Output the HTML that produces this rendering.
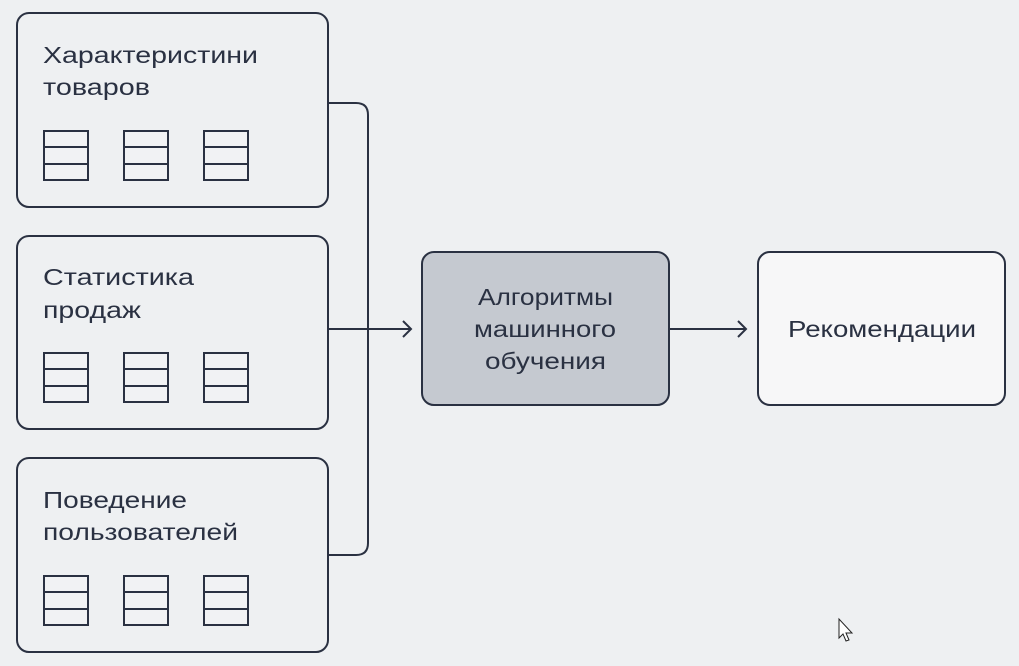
<!DOCTYPE html>
<html><head><meta charset="utf-8"><style>
html,body{margin:0;padding:0;background:#eef0f2;}
svg{display:block}
text{font-family:"Liberation Sans",sans-serif;font-size:23px;fill:#2a3142;}
</style></head><body>
<svg width="1019" height="666" viewBox="0 0 1019 666">
<rect width="1019" height="666" fill="#eef0f2"/>
<g fill="none" stroke="#2a3142" stroke-width="2">
<rect x="17" y="13" width="311" height="194" rx="12"/>
<rect x="17" y="236" width="311" height="193" rx="12"/>
<rect x="17" y="458" width="311" height="194" rx="12"/>
<path d="M328 103 H356 Q368 103 368 115 V543 Q368 555 356 555 H328"/>
<path d="M328 329 H411"/>
<path d="M403 321 L411 329 L403 337"/>
<rect x="422" y="252" width="247" height="153" rx="12" fill="#c5c9d0"/>
<path d="M669 329 H746"/>
<path d="M738 321 L746 329 L738 337"/>
<rect x="758" y="252" width="247" height="153" rx="12" fill="#f7f7f8"/>
</g>
<g fill="#f1f2f4" stroke="#2a3142" stroke-width="2">
<g id="t"><rect x="44" y="131" width="44" height="49"/><path d="M44 147 H88 M44 164 H88"/></g>
<use href="#t" x="80"/><use href="#t" x="160"/>
<use href="#t" y="222"/><use href="#t" x="80" y="222"/><use href="#t" x="160" y="222"/>
<use href="#t" y="445"/><use href="#t" x="80" y="445"/><use href="#t" x="160" y="445"/>
</g>
<g>
<text x="43" y="63" textLength="215" lengthAdjust="spacingAndGlyphs">Характеристини</text>
<text x="43" y="95" textLength="107" lengthAdjust="spacingAndGlyphs">товаров</text>
<text x="43" y="285" textLength="151" lengthAdjust="spacingAndGlyphs">Статистика</text>
<text x="43" y="318" textLength="98" lengthAdjust="spacingAndGlyphs">продаж</text>
<text x="43" y="508" textLength="144" lengthAdjust="spacingAndGlyphs">Поведение</text>
<text x="43" y="540" textLength="195" lengthAdjust="spacingAndGlyphs">пользователей</text>
<text x="478" y="305" textLength="135" lengthAdjust="spacingAndGlyphs">Алгоритмы</text>
<text x="474" y="337" textLength="142" lengthAdjust="spacingAndGlyphs">машинного</text>
<text x="485" y="369" textLength="121" lengthAdjust="spacingAndGlyphs">обучения</text>
<text x="788" y="337" textLength="188" lengthAdjust="spacingAndGlyphs">Рекомендации</text>
</g>
<path d="M839 619 V638 L843 634 L846 641 L849 640 L846 633 L852 633 Z" fill="#fff" stroke="#222" stroke-width="1"/>
</svg>
</body></html>
